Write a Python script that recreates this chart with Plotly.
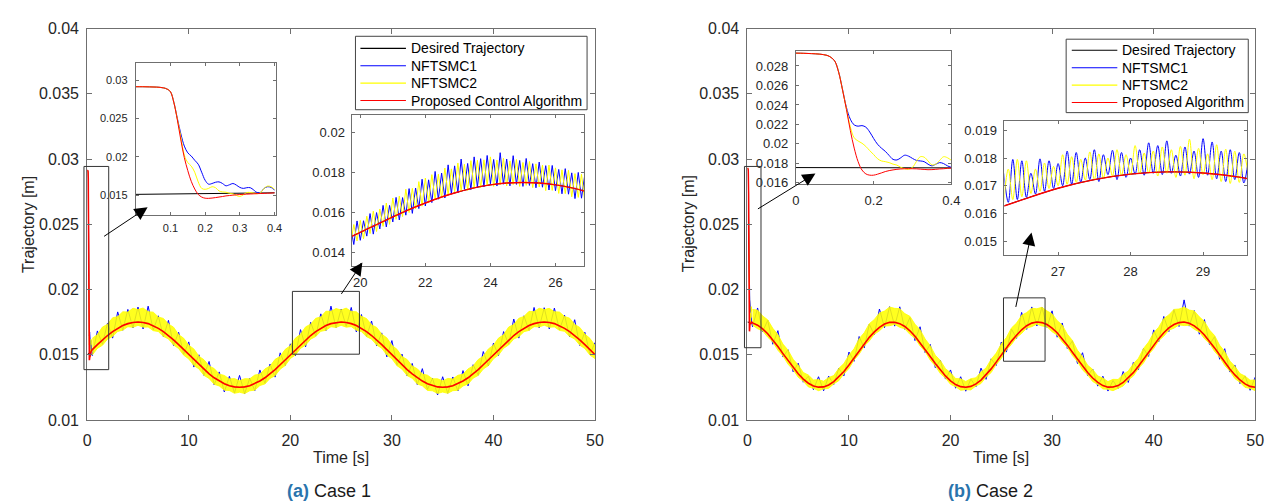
import numpy as np
import plotly.graph_objects as go

U = 1e-5  # every trajectory list below is given in units of 1e-5 m

# ---------------- sample times ----------------
t_half = np.arange(101) * 0.5                     # main plots: 0 ... 50 s every 0.5 s
t_start = [0, 0.02, 0.04, 0.06, 0.08, 0.09, 0.10, 0.11, 0.12, 0.13, 0.14, 0.15, 0.16,
           0.17, 0.18, 0.19, 0.20, 0.21, 0.22, 0.23, 0.24, 0.25, 0.26, 0.27, 0.28, 0.29,
           0.30, 0.31, 0.32, 0.33, 0.34, 0.35, 0.36, 0.37, 0.38, 0.39, 0.40]
t_a2 = 19.7 + 0.1 * np.arange(73)                 # case-1 zoom 19.7 ... 26.9 s
t_b2 = 26.25 + 0.0625 * np.arange(55)             # case-2 zoom 26.25 ... 29.625 s

# ---------------- Case 1 ----------------
desired1 = [1500,1539,1577,1614,1647,1677,1702,1723,1738,1747,1750,1747,1738,1723,1702,1677,1647,1614,1577,1539,1500,
            1461,1423,1386,1353,1323,1298,1277,1262,1253,1250,1253,1262,1277,1298,1323,1353,1386,1423,1461,1500,
            1539,1577,1614,1647,1677,1702,1723,1738,1747,1750,1747,1738,1723,1702,1677,1647,1614,1577,1539,1500,
            1461,1423,1386,1353,1323,1298,1277,1262,1253,1250,1253,1262,1277,1298,1323,1353,1386,1423,1461,1500,
            1539,1577,1614,1647,1677,1702,1723,1738,1747,1750,1747,1738,1723,1702,1677,1647,1614,1577,1539,1500]
nft2_upper1 = [1626,1654,1712,1733,1783,1792,1829,1827,1856,1846,
               1858,1830,1826,1789,1778,1735,1711,1654,1626,1573,
               1544,1488,1461,1414,1394,1351,1341,1314,1317,1300,
               1316,1315,1344,1350,1391,1413,1464,1487,1541,1569,
               1627,1656,1713,1734,1779,1789,1833,1832,1854,1842,
               1857,1831,1829,1794,1777,1729,1709,1657,1629,1572,
               1541,1486,1463,1413,1392,1352,1343,1315,1315,1299,
               1318,1314,1342,1350,1391,1414,1463,1488,1544,1573,
               1627,1653,1712,1732,1779,1793,1832,1830,1856,1846,
               1855,1829,1827,1793,1780,1732,1709,1658,1625,1571]
nft2_lower1 = [1498,1548,1572,1619,1639,1678,1688,1714,1710,1725,
               1711,1712,1684,1677,1640,1621,1574,1547,1496,1467,
               1417,1391,1341,1318,1273,1260,1228,1225,1204,1212,
               1202,1223,1228,1263,1276,1318,1339,1389,1417,1470,
               1498,1548,1573,1619,1639,1679,1687,1714,1709,1725,
               1711,1715,1687,1677,1638,1619,1574,1550,1498,1469,
               1416,1389,1340,1319,1276,1261,1226,1223,1203,1213,
               1204,1224,1227,1260,1275,1320,1341,1390,1416,1468,
               1497,1549,1575,1620,1637,1676,1686,1715,1712,1726,
               1710,1713,1686,1679,1640,1620,1573,1547,1497,1470]
nft1_1 = [1493,1682,1580,1743,1627,1828,1687,1847,1705,1865,
          1697,1872,1689,1798,1637,1763,1570,1672,1503,1598,
          1405,1499,1341,1448,1269,1368,1214,1334,1206,1341,
          1201,1319,1224,1383,1281,1428,1328,1514,1418,1583,
          1491,1692,1560,1748,1642,1813,1684,1872,1707,1850,
          1717,1862,1674,1808,1640,1758,1568,1667,1483,1608,
          1420,1504,1338,1433,1271,1393,1234,1319,1191,1331,
          1204,1329,1222,1378,1261,1423,1343,1524,1415,1588,
          1493,1677,1580,1773,1627,1798,1687,1862,1705,1860,
          1697,1857,1689,1803,1637,1768,1570,1672,1503,1593]
# first 0.4 s (transient)
prop_start1 = [2915,2915,2913,2910,2900,2885,2850,2705,2480,2220,1990,1820,1680,1580,1510,1475,1460,1458,
               1462,1468,1475,1482,1490,1495,1500,1504,1508,1510,1513,1515,1517,1520,1521,1523,1525,1527,1530]
nft1_start1 = [2915,2915,2913,2910,2900,2885,2850,2710,2500,2300,2140,2052,2010,1955,1904,1799,1694,1643,
               1652,1668,1673,1652,1622,1635,1652,1631,1601,1588,1597,1597,1567,1534,1538,1588,1610,1601,1567]
nft2_start1 = [2915,2915,2913,2910,2900,2885,2850,2708,2490,2260,2022,1925,1879,1799,1673,1588,1576,1588,
               1610,1597,1555,1542,1538,1525,1517,1496,1483,1504,1534,1534,1525,1517,1534,1588,1618,1610,1576]
desired_start1 = [1510, 1530]
# zoom 19.7 ... 26.9 s
nft1_a2 = [1532,1439,1557,1460,1558,1481,1594,1491,1599,1517,1635,1527,1635,1552,1675,1562,1674,1586,1719,1595,
           1722,1619,1766,1632,1763,1649,1805,1666,1797,1672,1838,1693,1833,1697,1867,1716,1845,1714,1878,1726,
           1869,1728,1885,1743,1865,1732,1899,1741,1867,1733,1884,1740,1860,1730,1870,1735,1844,1723,1852,1726,
           1834,1712,1835,1708,1815,1693,1819,1691,1798,1669,1800,1671,1787]
nft2_a2 = [1437,1539,1457,1560,1468,1581,1494,1606,1504,1617,1530,1647,1540,1672,1565,1682,1579,1716,1599,1720,
           1617,1754,1631,1772,1648,1789,1665,1791,1672,1822,1688,1818,1703,1847,1707,1841,1710,1859,1723,1861,
           1724,1863,1735,1878,1730,1862,1739,1871,1732,1858,1739,1865,1730,1850,1735,1855,1724,1843,1727,1836,
           1709,1837,1710,1823,1695,1813,1694,1811,1678,1794,1675,1791,1657]

# ---------------- Case 2 ----------------
desired2 = [1750,1744,1726,1698,1660,1614,1562,1508,1454,1401,
            1353,1313,1281,1260,1251,1253,1268,1293,1329,1371,
            1421,1475,1530,1583,1633,1675,1710,1735,1748,1749,
            1738,1716,1683,1642,1593,1541,1486,1432,1382,1337,
            1299,1271,1255,1250,1257,1276,1305,1345,1391,1443,
            1497,1552,1604,1649,1691,1722,1742,1750,1746,1731,
            1704,1668,1623,1573,1519,1464,1411,1363,1321,1287,
            1263,1251,1252,1263,1287,1321,1362,1411,1464,1519,
            1573,1623,1668,1705,1731,1746,1750,1741,1721,1691,
            1651,1604,1552,1497,1443,1391,1345,1306,1276,1257,
            1250]
nft2_upper2 = [1846,1842,1797,1767,1702,1654,1581,1535,1465,1421,
               1364,1344,1306,1309,1297,1325,1340,1395,1432,1498,
               1545,1623,1668,1737,1770,1820,1835,1865,1855,1853,
               1815,1794,1734,1692,1620,1569,1496,1455,1393,1361,
               1317,1315,1295,1316,1323,1367,1398,1465,1512,1583,
               1631,1705,1742,1802,1823,1856,1852,1863,1835,1814,
               1761,1727,1657,1609,1534,1485,1419,1387,1337,1321,
               1294,1311,1310,1349,1374,1430,1472,1547,1597,1668,
               1711,1777,1805,1847,1850,1865,1842,1835,1790,1755,
               1689,1647,1572,1524,1452,1411,1355,1336,1304,1306]
nft2_lower2 = [1726,1699,1682,1634,1597,1534,1490,1427,1385,1327,
               1296,1253,1242,1224,1237,1242,1276,1301,1353,1394,
               1459,1504,1566,1605,1657,1683,1719,1722,1732,1710,
               1698,1656,1626,1567,1524,1458,1414,1355,1321,1273,
               1254,1227,1232,1230,1260,1279,1328,1363,1425,1470,
               1536,1578,1632,1663,1704,1715,1734,1720,1714,1676,
               1650,1596,1557,1493,1447,1383,1345,1294,1271,1237,
               1234,1224,1245,1260,1305,1336,1394,1436,1501,1546,
               1607,1642,1688,1703,1728,1723,1725,1695,1674,1623,
               1586,1525,1481,1417,1374,1317,1288,1249,1241,1224]
nft1_2 = [1714,1858,1676,1764,1580,1684,1482,1538,1369,1435,
          1289,1335,1232,1331,1223,1335,1271,1396,1337,1520,
          1449,1639,1551,1734,1651,1850,1707,1868,1719,1867,
          1694,1785,1608,1714,1515,1579,1400,1456,1313,1383,
          1243,1331,1220,1313,1254,1397,1311,1468,1417,1597,
          1520,1696,1625,1824,1694,1866,1720,1864,1709,1836,
          1634,1743,1547,1606,1432,1515,1339,1390,1259,1335,
          1221,1302,1241,1371,1287,1440,1385,1548,1487,1690,
          1599,1793,1677,1844,1716,1920,1719,1838,1657,1769,
          1578,1638,1465,1546,1367,1421,1278,1337,1227,1328]
prop_start2 = [2932,2930,2927,2922,2909,2889,2850,2734,2552,2354,2139,1957,1818,1732,1692,1679,1679,1689,
               1702,1716,1726,1733,1739,1743,1745,1746,1745,1744,1741,1738,1735,1736,1739,1743,1745,1749,1752]
nft1_start2 = [2932,2930,2927,2922,2909,2889,2850,2740,2560,2375,2254,2195,2182,2188,2172,2122,2056,1997,
               1957,1924,1881,1841,1835,1858,1884,1874,1851,1831,1825,1818,1792,1775,1792,1808,1798,1775,1759]
nft2_start2 = [2932,2930,2927,2922,2909,2889,2850,2738,2556,2360,2175,2063,2030,2007,1974,1931,1891,1848,
               1825,1818,1808,1792,1782,1759,1745,1739,1759,1818,1868,1864,1825,1785,1792,1831,1868,1858,1831]
desired_start2 = [1757, 1754]
nft1_b2 = [1745,1640,1795,1650,1790,1658,1745,1670,1797,1680,1790,1690,1780,1700,1825,1705,1820,1712,1800,
           1722,1830,1715,1812,1740,1828,1722,1820,1730,1800,1742,1830,1738,1855,1745,1845,1740,1862,1745,
           1810,1735,1840,1742,1825,1730,1870,1738,1858,1725,1825,1715,1830,1722,1820,1710,1795]
nft2_b2 = [1640,1760,1650,1795,1660,1790,1672,1760,1680,1782,1690,1770,1700,1812,1705,1805,1712,1795,1720,
           1822,1722,1815,1728,1800,1735,1830,1738,1812,1740,1845,1742,1818,1745,1825,1735,1840,1745,1830,
           1730,1842,1738,1868,1725,1835,1740,1815,1722,1848,1715,1832,1708,1825,1712,1815,1735]

legend1 = ["Desired Trajectory", "NFTSMC1", "NFTSMC2", "Proposed Control Algorithm"]
legend2 = ["Desired Trajectory", "NFTSMC1", "NFTSMC2", "Proposed Algorithm"]
COLORS = ["#000000", "#0000ff", "#ffff00", "#ff0000"]

def m(v):
    return np.asarray(v, dtype=float) * U

fig = go.Figure()

def line(x, y, color, xa, ya, width=1.0, shape="linear"):
    fig.add_trace(go.Scatter(x=list(x), y=m(y), mode="lines", xaxis=xa, yaxis=ya,
                             line=dict(color=color, width=width, shape=shape),
                             showlegend=False, hoverinfo="skip"))

def band(x, up, lo, xa, ya):
    xs = list(x) + list(x)[::-1]
    ys = list(up) + list(lo)[::-1]
    fig.add_trace(go.Scatter(x=xs, y=m(ys), mode="lines", fill="toself", xaxis=xa, yaxis=ya,
                             fillcolor="rgba(255,255,0,0.88)",
                             line=dict(color="#ffff00", width=0.8),
                             showlegend=False, hoverinfo="skip"))

t_rest = list(t_half[1:])
# ---- main case 1
line(t_half, desired1, COLORS[0], "x", "y")
line(t_start + t_rest, nft1_start1 + nft1_1, COLORS[1], "x", "y")
band(t_rest, nft2_upper1, nft2_lower1, "x", "y")
line(t_start, nft2_start1, COLORS[2], "x", "y")
line(t_start + t_rest, prop_start1 + desired1[1:], COLORS[3], "x", "y", 1.6)
# ---- main case 2
line(t_half, desired2, COLORS[0], "x2", "y2")
line(t_start + t_rest, nft1_start2 + nft1_2, COLORS[1], "x2", "y2")
band(t_rest, nft2_upper2, nft2_lower2, "x2", "y2")
line(t_start, nft2_start2, COLORS[2], "x2", "y2")
line(t_start + t_rest, prop_start2 + desired2[1:], COLORS[3], "x2", "y2", 1.6)
# ---- inset A1 (case 1, start)
line([0, 0.4], desired_start1, COLORS[0], "x3", "y3")
line(t_start, nft1_start1, COLORS[1], "x3", "y3", shape="spline")
line(t_start, nft2_start1, COLORS[2], "x3", "y3", shape="spline")
line(t_start, prop_start1, COLORS[3], "x3", "y3", shape="spline")
# ---- inset A2 (case 1, 20-27 s)
line(t_half[39:55], desired1[39:55], COLORS[0], "x4", "y4", shape="spline")
line(t_a2, nft1_a2, COLORS[1], "x4", "y4")
line(t_a2, nft2_a2, COLORS[2], "x4", "y4")
line(t_half[39:55], desired1[39:55], COLORS[3], "x4", "y4", 1.4, "spline")
# ---- inset B1 (case 2, start)
line([0, 0.4], desired_start2, COLORS[0], "x5", "y5")
line(t_start, nft1_start2, COLORS[1], "x5", "y5", shape="spline")
line(t_start, nft2_start2, COLORS[2], "x5", "y5", shape="spline")
line(t_start, prop_start2, COLORS[3], "x5", "y5", shape="spline")
# ---- inset B2 (case 2, 26.3-29.6 s)
line(t_half[52:61], desired2[52:61], COLORS[0], "x6", "y6", shape="spline")
line(t_b2, nft1_b2, COLORS[1], "x6", "y6", shape="spline")
line(t_b2, nft2_b2, COLORS[2], "x6", "y6", shape="spline")
line(t_half[52:61], desired2[52:61], COLORS[3], "x6", "y6", 1.4, "spline")

W, H = 1275, 504
def px(x): return x / W
def py(y): return 1 - y / H

FONT = "Liberation Sans, Arial, sans-serif"
TXT = "#262626"
AX = "#6f6f6f"

def axis(dom, rng, tv, tt, size, tlen, standoff, **kw):
    d = dict(domain=dom, range=rng, tickvals=tv, ticktext=tt, showline=True, linecolor=AX, linewidth=1,
             mirror="ticks", ticks="inside", ticklen=tlen, tickcolor=AX, tickwidth=1,
             showgrid=False, zeroline=False, fixedrange=True, ticklabelstandoff=standoff,
             tickfont=dict(family=FONT, size=size, color=TXT))
    d.update(kw)
    return d

ytv_main = [0.01, 0.015, 0.02, 0.025, 0.03, 0.035, 0.04]
ytt_main = ["0.01", "0.015", "0.02", "0.025", "0.03", "0.035", "0.04"]
xtv_main = [0, 10, 20, 30, 40, 50]
xtt_main = [str(v) for v in xtv_main]
ydom = [py(418), py(13)]

layout = dict(
    width=W, height=H, margin=dict(l=0, r=0, t=0, b=0),
    paper_bgcolor="white", plot_bgcolor="white", showlegend=False,
    xaxis=axis([px(76), px(589)], [0, 50], xtv_main, xtt_main, 16, 5, 6, anchor="y"),
    yaxis=axis(ydom, [0.01, 0.04], ytv_main, ytt_main, 16, 5, 4, anchor="x"),
    xaxis2=axis([px(743), px(1256)], [0, 50], xtv_main, xtt_main, 16, 5, 6, anchor="y2"),
    yaxis2=axis(ydom, [0.01, 0.04], ytv_main, ytt_main, 16, 5, 4, anchor="x2"),
    xaxis3=axis([px(125), px(267)], [0, 0.405], [0.1, 0.2, 0.3, 0.4], ["0.1", "0.2", "0.3", "0.4"], 11, 3, 3, anchor="y3"),
    yaxis3=axis([py(206), py(49)], [0.0124, 0.0322], [0.015, 0.02, 0.025, 0.03],
                ["0.015", "0.02", "0.025", "0.03"], 11, 3, 5, anchor="x3"),
    xaxis4=axis([px(343), px(578)], [19.73, 26.88], [20, 22, 24, 26], ["20", "22", "24", "26"], 13, 3, 4, anchor="y4"),
    yaxis4=axis([py(259), py(102)], [0.0133, 0.0209], [0.014, 0.016, 0.018, 0.02],
                ["0.014", "0.016", "0.018", "0.02"], 13, 3, 3, anchor="x4"),
    xaxis5=axis([px(792), px(949)], [0, 0.4], [0, 0.2, 0.4], ["0", "0.2", "0.4"], 13, 3, 4, anchor="y5"),
    yaxis5=axis([py(174), py(36)], [0.01587, 0.02956],
                [0.016, 0.018, 0.02, 0.022, 0.024, 0.026, 0.028],
                ["0.016", "0.018", "0.02", "0.022", "0.024", "0.026", "0.028"], 13, 3, 4, anchor="x5"),
    xaxis6=axis([px(1002.7), px(1248)], [26.26, 29.61], [27, 28, 29], ["27", "28", "29"], 13, 3, 4, anchor="y6"),
    yaxis6=axis([py(247.3), py(108.3)], [0.0145, 0.01935], [0.015, 0.016, 0.017, 0.018, 0.019],
                ["0.015", "0.016", "0.017", "0.018", "0.019"], 13, 3, 4, anchor="x6"),
)

shapes = []
annotations = []

# zoom rectangles on the main plots
for (x0, x1, y0, y1) in [(72.7, 97.7, 155.7, 366), (283.3, 351, 285, 350),
                         (740, 756.7, 155.7, 343.3), (1001.7, 1043.7, 291.7, 357.3)]:
    shapes.append(dict(type="rect", xref="paper", yref="paper", x0=px(x0), x1=px(x1), y0=py(y1), y1=py(y0),
                       line=dict(color="#333333", width=1), fillcolor="rgba(0,0,0,0)", layer="above"))

# arrows from rectangles to insets (head px, tail px)
for (hx, hy, tx, ty) in [(137, 198, 92, 228), (354, 255, 332, 288), (811.7, 163, 752.7, 199.3), (1030, 224, 1014, 300)]:
    annotations.append(dict(x=px(hx), y=py(hy), xref="paper", yref="paper", text="", showarrow=True,
                            ax=tx - hx, ay=ty - hy, arrowhead=2, arrowsize=2.6, arrowwidth=1,
                            arrowcolor="#000000", standoff=0))

# legends
def legend(box, sx0, sx1, tx, rows, names):
    x0, y0, x1, y1 = box
    shapes.append(dict(type="rect", xref="paper", yref="paper", x0=px(x0), x1=px(x1), y0=py(y1), y1=py(y0),
                       line=dict(color="#444444", width=1), fillcolor="white", layer="above"))
    for name, c, ry in zip(names, COLORS, rows):
        shapes.append(dict(type="line", xref="paper", yref="paper", x0=px(sx0), x1=px(sx1), y0=py(ry), y1=py(ry),
                           line=dict(color=c, width=1.1), layer="above"))
        annotations.append(dict(x=px(tx), y=py(ry), xref="paper", yref="paper", text=name, showarrow=False,
                                xanchor="left", yanchor="middle",
                                font=dict(family=FONT, size=14, color="#000000")))

legend((347, 21, 581, 97), 352, 398, 401, [33.5, 51.5, 69.5, 87.5], legend1)
legend((1065, 24, 1249, 100), 1070.7, 1116.7, 1119.5, [35.5, 53.5, 71.5, 89.5], legend2)

# axis titles
for cx in (332.5, 999.5):
    annotations.append(dict(x=px(cx), y=py(457), xref="paper", yref="paper", text="Time [s]", showarrow=False,
                            xanchor="center", yanchor="middle", font=dict(family=FONT, size=16, color=TXT)))
for cx in (16, 683):
    annotations.append(dict(x=px(cx), y=py(215.5), xref="paper", yref="paper", text="Trajectory [m]",
                            showarrow=False, textangle=-90, xanchor="center", yanchor="middle",
                            font=dict(family=FONT, size=16, color=TXT)))
# captions
for cx, lab, case in ((320, "(a)", "Case 1"), (988.5, "(b)", "Case 2")):
    annotations.append(dict(x=px(cx), y=py(492), xref="paper", yref="paper",
                            text='<span style="color:#2a74ad"><b>%s</b></span> %s' % (lab, case),
                            showarrow=False, xanchor="center", yanchor="middle",
                            font=dict(family=FONT, size=18, color="#1a1a1a")))

layout["shapes"] = shapes
layout["annotations"] = annotations
fig.update_layout(**layout)
fig.write_html("out.html")
